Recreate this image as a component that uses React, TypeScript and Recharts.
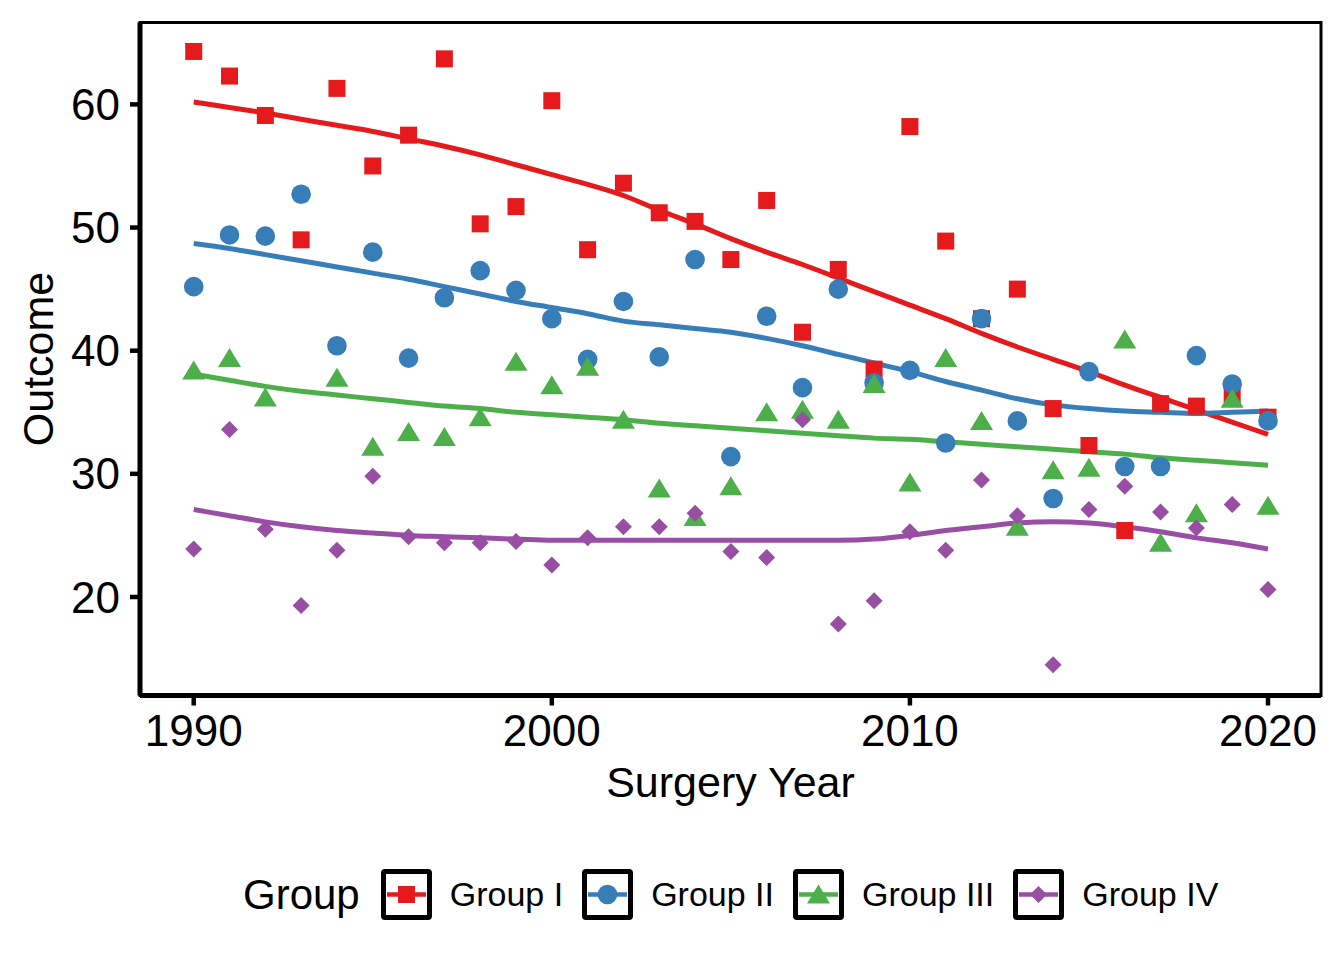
import React from 'react';
import { ComposedChart, Line, Scatter, XAxis, YAxis, ReferenceArea } from 'recharts';

// surgery year, one point per group per year
const years = [
  1990, 1991, 1992, 1993, 1994, 1995, 1996, 1997, 1998, 1999, 2000,
  2001, 2002, 2003, 2004, 2005, 2006, 2007, 2008, 2009, 2010,
  2011, 2012, 2013, 2014, 2015, 2016, 2017, 2018, 2019, 2020,
];

const groupI = [
  64.3, 62.3, 59.1, 49.0, 61.3, 55.0, 57.5, 63.7, 50.3, 51.7, 60.3,
  48.2, 53.6, 51.2, 50.5, 47.4, 52.2, 41.5, 46.6, 38.5, 58.2,
  48.9, 42.6, 45.0, 35.3, 32.3, 25.4, 35.7, 35.5, 36.4, 34.6,
];
const groupII = [
  45.2, 49.4, 49.3, 52.7, 40.4, 48.0, 39.4, 44.3, 46.5, 44.9, 42.6,
  39.3, 44.0, 39.5, 47.4, 31.4, 42.8, 37.0, 45.0, 37.4, 38.4,
  32.5, 42.6, 34.3, 28.0, 38.3, 30.6, 30.6, 39.6, 37.3, 34.3,
];
const groupIII = [
  38.4, 39.4, 36.2, null, 37.8, 32.2, 33.4, 33.0, 34.6, 39.1, 37.2,
  38.7, 34.4, 28.8, 26.5, 29.0, 35.0, 35.2, 34.4, 37.3, 29.3,
  39.4, 34.3, 25.7, 30.3, 30.5, 40.9, 24.4, 26.8, 36.1, 27.4,
];
const groupIV = [
  23.9, 33.6, 25.5, 19.3, 23.8, 29.8, 24.9, 24.4, 24.4, 24.5, 22.6,
  24.8, 25.7, 25.7, 26.8, 23.7, 23.2, 34.4, 17.8, 19.7, 25.3,
  23.8, 29.5, 26.6, 14.5, 27.1, 29.0, 26.9, 25.6, 27.5, 20.6,
];

// smoothed trend per group
const fitI = [
  60.2, 59.75, 59.3, 58.8, 58.3, 57.8, 57.2, 56.6, 55.9, 55.1, 54.3,
  53.5, 52.6, 51.4, 50.3, 49.1, 48.0, 47.0, 45.9, 44.8, 43.7,
  42.6, 41.4, 40.3, 39.3, 38.3, 37.2, 36.2, 35.2, 34.2, 33.2,
];
const fitII = [
  48.7, 48.3, 47.8, 47.3, 46.8, 46.3, 45.8, 45.2, 44.6, 44.0, 43.5,
  43.0, 42.4, 42.1, 41.8, 41.5, 41.0, 40.4, 39.7, 39.0, 38.3,
  37.5, 36.8, 36.1, 35.6, 35.3, 35.1, 35.0, 34.9, 35.0, 35.1,
];
const fitIII = [
  38.1, 37.6, 37.1, 36.7, 36.4, 36.1, 35.8, 35.5, 35.3, 35.0, 34.8,
  34.6, 34.4, 34.1, 33.9, 33.7, 33.5, 33.3, 33.1, 32.9, 32.8,
  32.6, 32.4, 32.2, 32.0, 31.8, 31.6, 31.3, 31.1, 30.9, 30.7,
];
const fitIV = [
  27.1, 26.6, 26.1, 25.7, 25.4, 25.2, 25.0, 24.9, 24.8, 24.7, 24.6,
  24.6, 24.6, 24.6, 24.6, 24.6, 24.6, 24.6, 24.6, 24.7, 25.0,
  25.4, 25.7, 26.0, 26.1, 26.0, 25.7, 25.3, 24.8, 24.4, 23.9,
];

const xTicks = [1990, 2000, 2010, 2020];
const yTicks = [20, 30, 40, 50, 60];
const groupNames = ['Group I', 'Group II', 'Group III', 'Group IV'];
const groupColors = ['#E41A1C', '#377EB8', '#4DAF4A', '#984EA3'];

const xDomain = [1988.5, 2021.48];
const yDomain = [12.0, 66.65];

const rows = years.map((year, i) => ({
  year,
  g1: groupI[i],
  g2: groupII[i],
  g3: groupIII[i],
  g4: groupIV[i],
  f1: fitI[i],
  f2: fitII[i],
  f3: fitIII[i],
  f4: fitIV[i],
}));

const FONT = '"Liberation Sans", Arial, Helvetica, sans-serif';

function marker(kind: number, cx: number, cy: number, color: string) {
  if (kind === 0) return <rect x={cx - 8.5} y={cy - 8.5} width={17} height={17} fill={color} />;
  if (kind === 1) return <circle cx={cx} cy={cy} r={9.8} fill={color} />;
  if (kind === 2)
    return (
      <polygon
        points={`${cx},${cy - 10} ${cx + 11.5},${cy + 9} ${cx - 11.5},${cy + 9}`}
        fill={color}
      />
    );
  return (
    <polygon
      points={`${cx},${cy - 8.5} ${cx + 8.5},${cy} ${cx},${cy + 8.5} ${cx - 8.5},${cy}`}
      fill={color}
    />
  );
}

const makeShape = (kind: number) => (props: any) => {
  const y = props?.payload ? props.payload[`g${kind + 1}`] : null;
  if (y == null || !Number.isFinite(props.cx) || !Number.isFinite(props.cy)) return <g />;
  return marker(kind, props.cx, props.cy, groupColors[kind]);
};

function LegendKey({ kind }: { kind: number }) {
  return (
    <svg width={51} height={51} style={{ display: 'block' }}>
      <rect x={2.5} y={2.5} width={46} height={46} fill="#fff" stroke="#000" strokeWidth={5} rx={1.5} />
      <line x1={6} y1={25.5} x2={45} y2={25.5} stroke={groupColors[kind]} strokeWidth={4.5} />
      {marker(kind, 25.5, 25.5, groupColors[kind])}
    </svg>
  );
}

export default function App() {
  return (
    <div style={{ position: 'absolute', left: 0, top: 0, width: 1344, height: 960, background: '#fff', fontFamily: FONT }}>
      <ComposedChart
        width={1344}
        height={960}
        data={rows}
        margin={{ top: 22.5, right: 23, bottom: 204.5, left: 0 }}
        style={{ fontFamily: FONT }}
      >
        <XAxis
          dataKey="year"
          type="number"
          domain={xDomain}
          ticks={xTicks}
          allowDataOverflow
          height={60}
          tickSize={10}
          tickMargin={9}
          axisLine={{ stroke: '#000', strokeWidth: 5 }}
          tickLine={{ stroke: '#000', strokeWidth: 4.5 }}
          tick={{ fill: '#000', fontSize: 44 }}
          label={{
            content: (p: any) => {
              const vb = p.viewBox || { x: 140, y: 695.5, width: 1181 };
              return (
                <text x={vb.x + vb.width / 2} y={vb.y + 101.5} textAnchor="middle" fontSize={43} fill="#000">
                  Surgery Year
                </text>
              );
            },
          }}
        />
        <YAxis
          type="number"
          domain={yDomain}
          ticks={yTicks}
          allowDataOverflow
          width={140}
          tickSize={10}
          tickMargin={10}
          axisLine={{ stroke: '#000', strokeWidth: 5 }}
          tickLine={{ stroke: '#000', strokeWidth: 4.5 }}
          tick={{ fill: '#000', fontSize: 44 }}
          label={{
            content: (p: any) => {
              const vb = p.viewBox || { x: 0, y: 22.5, height: 673 };
              const cy = vb.y + vb.height / 2;
              return (
                <text x={53} y={cy} transform={`rotate(-90 53 ${cy})`} textAnchor="middle" fontSize={43} fill="#000">
                  Outcome
                </text>
              );
            },
          }}
        />
        <ReferenceArea
          x1={xDomain[0]}
          x2={xDomain[1]}
          y1={yDomain[0]}
          y2={yDomain[1]}
          fill="none"
          fillOpacity={0}
          stroke="#000"
          strokeWidth={3}
          ifOverflow="visible"
        />
        {['f1', 'f2', 'f3', 'f4'].map((k, i) => (
          <Line
            key={k}
            dataKey={k}
            type="monotone"
            stroke={groupColors[i]}
            strokeWidth={5}
            dot={false}
            activeDot={false}
            isAnimationActive={false}
          />
        ))}
        {['g1', 'g2', 'g3', 'g4'].map((k, i) => (
          <Scatter
            key={k}
            dataKey={k}
            name={groupNames[i]}
            fill={groupColors[i]}
            shape={makeShape(i)}
            isAnimationActive={false}
          />
        ))}
      </ComposedChart>

      <div
        style={{
          position: 'absolute',
          left: 243,
          top: 869,
          height: 51,
          display: 'flex',
          alignItems: 'center',
          whiteSpace: 'nowrap',
          color: '#000',
        }}
      >
        <span style={{ fontSize: 42, marginRight: 21, lineHeight: '51px' }}>Group</span>
        {groupNames.map((name, i) => (
          <React.Fragment key={name}>
            <LegendKey kind={i} />
            <span style={{ fontSize: 34, marginLeft: 18, marginRight: i < 3 ? 19 : 0, lineHeight: '51px' }}>{name}</span>
          </React.Fragment>
        ))}
      </div>
    </div>
  );
}
